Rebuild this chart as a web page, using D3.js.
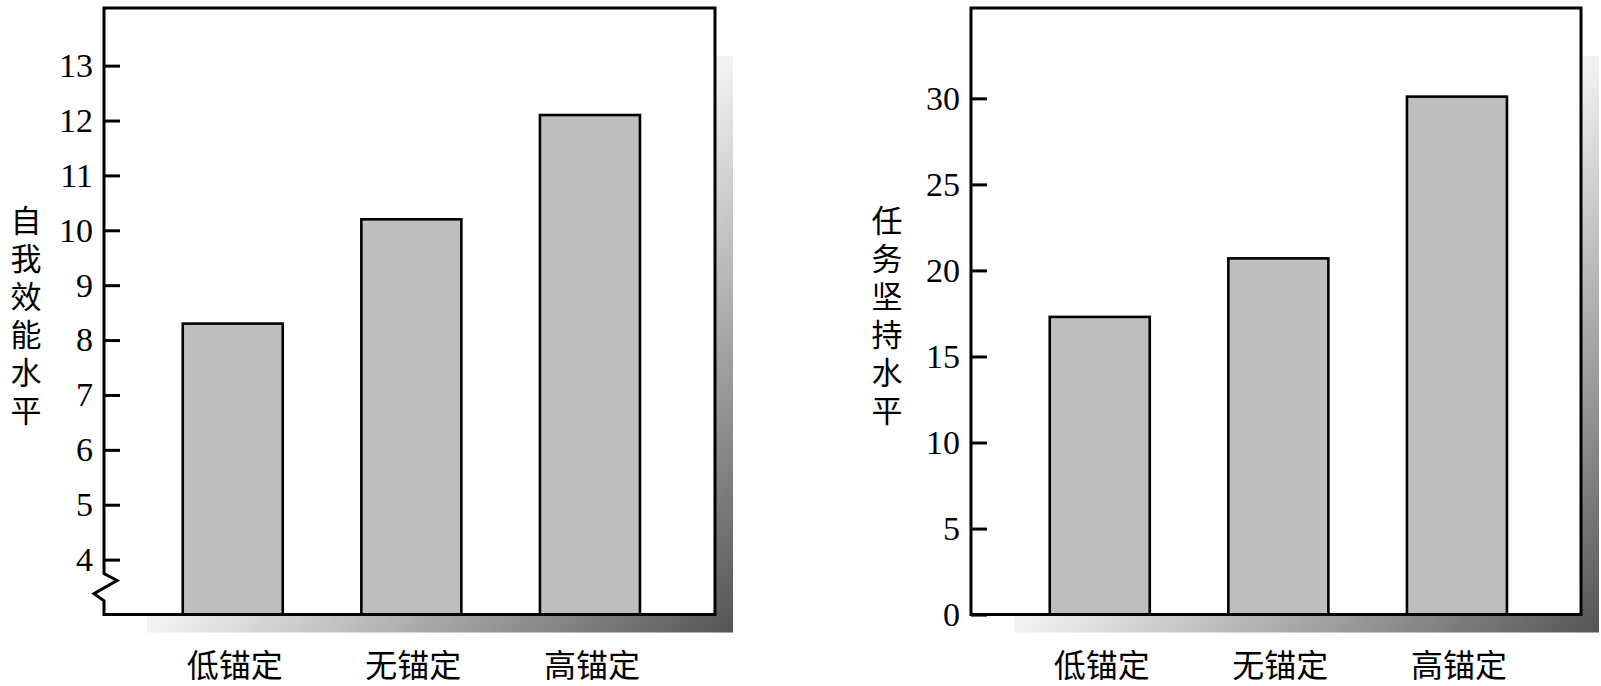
<!DOCTYPE html>
<html>
<head>
<meta charset="utf-8">
<script src="https://cdn.jsdelivr.net/npm/d3@7"></script>
<style>
  html, body { margin: 0; padding: 0; background: #fff; }
  svg { display: block; }
</style>
</head>
<body>
<svg id="chart" width="1601" height="686"></svg>
<script>
// ---- data ----
const categories = ["低锚定", "无锚定", "高锚定"];
const selfEfficacy = [8.3, 10.2, 12.1];
const persistence = [17.3, 20.7, 30.1];
const leftTicks = [4, 5, 6, 7, 8, 9, 10, 11, 12, 13];
const rightTicks = [0, 5, 10, 15, 20, 25, 30];
const leftTitle = "自我效能水平";
const rightTitle = "任务坚持水平";

// ---- drawing ----
const svg = d3.select("#chart");
svg.append("rect").attr("width", 1601).attr("height", 686).attr("fill", "#fff");

const defs = svg.append("defs");
const grad = defs.append("linearGradient").attr("id", "shadowGrad")
  .attr("x1", 0).attr("y1", 0).attr("x2", 1).attr("y2", 1);
grad.append("stop").attr("offset", 0).attr("stop-color", "#ffffff");
grad.append("stop").attr("offset", 0.5).attr("stop-color", "#f2f2f2");
grad.append("stop").attr("offset", 1).attr("stop-color", "#545454");

const panels = [
  { values: selfEfficacy, ticks: leftTicks, title: leftTitle,
    left: 104, right: 715, top: 8, bottom: 614.5,
    domain: [3, 14.05], brk: true, titleX: 26 },
  { values: persistence, ticks: rightTicks, title: rightTitle,
    left: 971, right: 1581, top: 8, bottom: 614.6,
    domain: [0, 35.25], brk: false, titleX: 887 }
];

panels.forEach(p => {
  const g = svg.append("g");
  const y = d3.scaleLinear().domain(p.domain).range([p.bottom, p.top]);
  const x = d3.scaleBand().domain(categories)
    .range([p.left + 39.45, p.left + 575.25])
    .paddingInner(0.44).paddingOuter(0.22);

  // shadow
  g.append("rect")
    .attr("x", p.left + 43).attr("y", 56)
    .attr("width", (p.right + 18) - (p.left + 43))
    .attr("height", 632.5 - 56)
    .attr("fill", "url(#shadowGrad)");

  // frame fill
  g.append("rect")
    .attr("x", p.left).attr("y", p.top)
    .attr("width", p.right - p.left).attr("height", p.bottom - p.top)
    .attr("fill", "#fff");

  // bars
  g.selectAll("rect.bar").data(p.values).join("rect")
    .attr("class", "bar")
    .attr("x", (d, i) => x(categories[i]))
    .attr("width", x.bandwidth())
    .attr("y", d => y(d))
    .attr("height", d => p.bottom - y(d))
    .attr("fill", "#bebebe")
    .attr("stroke", "#000")
    .attr("stroke-width", 2.6);

  // frame outline (with axis break on the left panel)
  let path;
  if (p.brk) {
    const b1 = y(3.745), b2 = y(3.62), b3 = y(3.38), b4 = y(3.25);
    path = `M${p.left},${p.top} L${p.right},${p.top} L${p.right},${p.bottom} L${p.left},${p.bottom} ` +
      `L${p.left},${b4} L${p.left - 10},${b3} L${p.left + 13},${b2} L${p.left},${b1} Z`;
  } else {
    path = `M${p.left},${p.top} L${p.right},${p.top} L${p.right},${p.bottom} L${p.left},${p.bottom} Z`;
  }
  g.append("path").attr("d", path)
    .attr("fill", "none").attr("stroke", "#000")
    .attr("stroke-width", 3).attr("stroke-linejoin", "miter");

  // y axis ticks
  const axis = d3.axisLeft(y).tickValues(p.ticks)
    .tickSizeInner(-16).tickSizeOuter(0).tickPadding(11)
    .tickFormat(d3.format("d"));
  const ag = g.append("g").attr("transform", `translate(${p.left},0)`).call(axis);
  ag.select(".domain").remove();
  ag.selectAll(".tick line").attr("stroke", "#000").attr("stroke-width", 3);
  ag.selectAll(".tick text")
    .attr("fill", "#000")
    .style("font-family", "'Liberation Serif', 'Times New Roman', serif")
    .style("font-size", "34px");

  // category labels
  g.selectAll("text.cat").data(categories).join("text")
    .attr("class", "cat")
    .attr("x", d => x(d) + x.bandwidth() / 2 + 2)
    .attr("y", 663)
    .attr("text-anchor", "middle")
    .attr("dominant-baseline", "central")
    .style("font-family", "'Noto Sans CJK SC', sans-serif")
    .style("font-size", "32px")
    .attr("fill", "#000")
    .text(d => d);

  // vertical y title (single text, vertical writing mode)
  g.append("text")
    .attr("x", p.titleX)
    .attr("y", 319)
    .attr("text-anchor", "middle")
    .style("writing-mode", "vertical-rl")
    .style("text-orientation", "upright")
    .style("letter-spacing", "7px")
    .style("font-family", "'Noto Sans CJK SC', sans-serif")
    .style("font-size", "31px")
    .attr("fill", "#000")
    .text(p.title);
});
</script>
</body>
</html>
